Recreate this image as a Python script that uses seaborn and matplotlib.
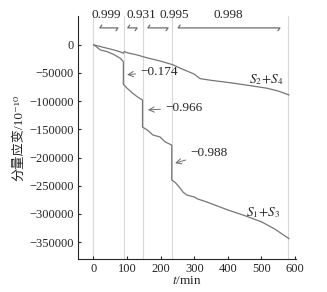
import seaborn as sns
import matplotlib
matplotlib.use('Agg')
import matplotlib.pyplot as plt
import pandas as pd

# S1+S3 curve (lower)
s13_t = [0, 8, 20, 40, 60, 80, 89, 89, 100, 115, 130, 146, 146, 160, 177, 198, 213, 233, 233,
         243, 255, 266, 278, 300, 308, 338, 400, 450, 500, 540, 582]
s13_v = [0, -3000, -9000, -12000, -17000, -24000, -30000, -70000, -77000, -85000, -92000, -98000,
         -146000, -151000, -160000, -163500, -172000, -178000, -240000, -244000, -252000, -261000,
         -266500, -270000, -273000, -279000, -293000, -303000, -314000, -327000, -344000]

# S2+S4 curve (upper)
s24_t = [0, 20, 40, 60, 80, 89, 92, 100, 130, 159, 200, 237, 260, 300, 317, 350, 416, 450, 516, 550, 582]
s24_v = [0, -3000, -6000, -9000, -12500, -15000, -12000, -14000, -18000, -23000, -29000, -35500,
         -42000, -52000, -60000, -63000, -68000, -71000, -77000, -82000, -89000]

# stage boundaries and correlation coefficients
stage_t = [0, 90, 147, 234, 580]
stage_corr = ['0.999', '0.931', '0.995', '0.998']
stage_corr_t = [37, 144, 239, 400]
stage_spans = [(19, 73), (102, 130), (162, 222), (252, 555)]

# drop annotations
drop_labels = ['−0.174', '−0.966', '−0.988']
drop_tip = [(100, -53000), (162, -115500), (243, -210000)]
drop_text = [(139, -48000), (213, -112000), (288, -192000)]

sns.set_style('ticks')
plt.rcParams['font.family'] = ['Liberation Serif', 'Noto Sans CJK SC', 'DejaVu Serif']
plt.rcParams['mathtext.fontset'] = 'stix'
plt.rcParams['axes.unicode_minus'] = True

fig = plt.figure(figsize=(3.27, 2.92), dpi=100)
ax = fig.add_axes([0.2385, 0.113, 0.667, 0.832])

for t in stage_t:
    ax.axvline(t, color='#d8d8d8', lw=0.8, zorder=0)

df13 = pd.DataFrame({'t': s13_t, 'v': s13_v})
df24 = pd.DataFrame({'t': s24_t, 'v': s24_v})
sns.lineplot(data=df13, x='t', y='v', ax=ax, color='#767676', lw=0.9, sort=False, estimator=None)
sns.lineplot(data=df24, x='t', y='v', ax=ax, color='#767676', lw=0.9, sort=False, estimator=None)

fs = 9.5
for (t0, t1) in stage_spans:
    ax.plot([t0 + 6, t0, t1, t1 - 6], [35000, 30000, 30000, 25000],
            color='#6e6e6e', lw=0.9, clip_on=False)
for t, s in zip(stage_corr_t, stage_corr):
    ax.text(t, 53000, s, ha='center', va='center', fontsize=fs, clip_on=False)

for lab, tip, tx in zip(drop_labels, drop_tip, drop_text):
    ax.annotate(lab, xy=tip, xytext=tx, ha='left', va='center', fontsize=fs,
                arrowprops=dict(arrowstyle='->', color='#6e6e6e', lw=0.7,
                                shrinkA=1, shrinkB=0))

ax.text(514, -62000, r'$S_2\!+\!S_4$', ha='center', va='center', fontsize=fs)
ax.text(504, -297000, r'$S_1\!+\!S_3$', ha='center', va='center', fontsize=fs)

ax.set_xlim(-46, 603)
ax.set_ylim(-380000, 51000)
ax.set_xticks([0, 100, 200, 300, 400, 500, 600])
ax.set_yticks([0, -50000, -100000, -150000, -200000, -250000, -300000, -350000])
ax.tick_params(direction='in', length=2.5, width=0.8, labelsize=9, pad=3)
ax.set_xlabel(r'$t$/min', fontsize=fs, labelpad=0)
ax.set_ylabel('分量应变/10⁻¹⁰', fontsize=fs, labelpad=3)
sns.despine(ax=ax)

fig.savefig('out.png', dpi=100)
